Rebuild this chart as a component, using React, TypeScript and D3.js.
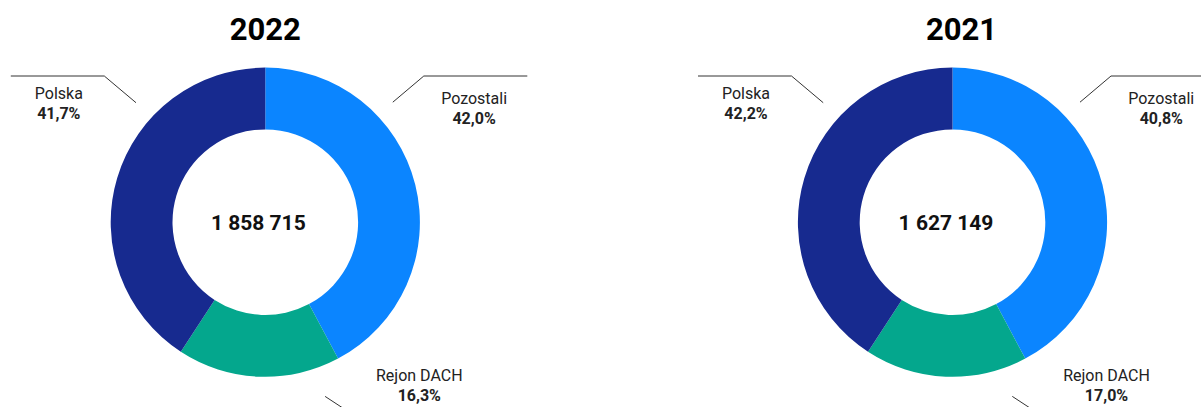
import React from "react";
import * as d3 from "d3";

const categories = ["Pozostali", "Rejon DACH", "Polska"];
const years = ["2022", "2021"];
// percentages printed in the labels
const share2022 = [42.0, 16.3, 41.7];
const share2021 = [40.8, 17.0, 42.2];
// slice sizes as drawn in the picture (read from the arc boundaries)
const slice2022 = [42.2, 17.0, 40.8];
const slice2021 = [42.2, 17.0, 40.8];
const totals = ["1 858 715", "1 627 149"];
const colors = ["#0b85ff", "#04a78d", "#172a8f"];

const W = 1201;
const H = 407;
const CY = 222.2;
const OUTER = 154.6;
const INNER = 92.8;
const centersX = [265.3, 952.5];
const titleDx = [0, 9];
const totalDx = [-7, -6.5];

// label layout (relative to chart center), per category
const labelPos = [
  { x: 208.8, y: -118 }, // Pozostali
  { x: 154, y: 159 }, // Rejon DACH
  { x: -206.5, y: -123 }, // Polska
];
const leaders: [number, number][][] = [
  [[127.5, -120], [158.5, -146.2], [262, -146.2]],
  [[59.8, 174.2], [90, 194]],
  [[-254.5, -146.2], [-161, -146.2], [-129.3, -119.5]],
];

const fmt = (v: number) => v.toFixed(1).replace(".", ",") + "%";

function Donut({ idx, values, slices }: { idx: number; values: number[]; slices: number[] }) {
  const cx = centersX[idx];
  const pie = d3
    .pie<number>()
    .sort(null)
    .startAngle(0)
    .endAngle(2 * Math.PI)
    .value((d) => d);
  const arcs = pie(slices);
  const arc = d3.arc<d3.PieArcDatum<number>>().innerRadius(INNER).outerRadius(OUTER);
  const line = d3.line();
  return (
    <g>
      <text
        x={cx + titleDx[idx]}
        y={40}
        textAnchor="middle"
        fontFamily="Roboto"
        fontWeight={700}
        fontSize={31}
        fill="#000"
      >
        {years[idx]}
      </text>
      <g transform={`translate(${cx},${CY})`}>
        {arcs.map((a, i) => (
          <path key={i} d={arc(a) || ""} fill={colors[i]} />
        ))}
        <text
          x={totalDx[idx]}
          y={8}
          textAnchor="middle"
          fontFamily="Roboto"
          fontWeight={700}
          fontSize={21}
          fill="#111"
        >
          {totals[idx]}
        </text>
        {leaders.map((pts, i) => (
          <path key={"l" + i} d={line(pts) || ""} fill="none" stroke="#333" strokeWidth={1} />
        ))}
        {categories.map((c, i) => (
          <g key={"t" + i}>
            <text
              x={labelPos[i].x}
              y={labelPos[i].y}
              textAnchor="middle"
              fontFamily="Roboto"
              fontSize={16}
              fill="#222"
            >
              {c}
            </text>
            <text
              x={labelPos[i].x}
              y={labelPos[i].y + 19.5}
              textAnchor="middle"
              fontFamily="Roboto"
              fontWeight={700}
              fontSize={16}
              fill="#222"
            >
              {fmt(values[i])}
            </text>
          </g>
        ))}
      </g>
    </g>
  );
}

export default function App() {
  return (
    <svg
      width={W}
      height={H}
      style={{ position: "absolute", left: 0, top: 0, background: "#fff" }}
    >
      <rect width={W} height={H} fill="#fff" />
      <Donut idx={0} values={share2022} slices={slice2022} />
      <Donut idx={1} values={share2021} slices={slice2021} />
    </svg>
  );
}
